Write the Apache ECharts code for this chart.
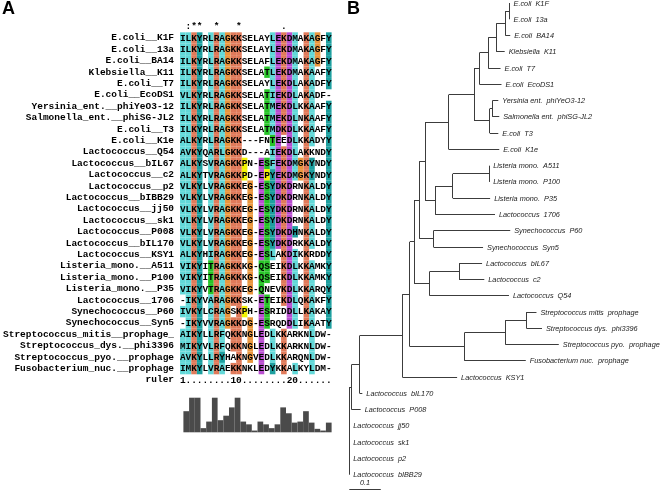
<!DOCTYPE html>
<html><head><meta charset="utf-8">
<script src="https://cdn.jsdelivr.net/npm/echarts@6/dist/echarts.min.js"></script>
<style>html,body{margin:0;padding:0;background:#fff}#c{width:664px;height:491px}</style>
</head><body><div id="c"></div>
<script>
// ---------- Panel A data ----------
const seqNames = [
 'E.coli__K1F','E.coli__13a','E.coli__BA14','Klebsiella__K11','E.coli__T7','E.coli__EcoDS1',
 'Yersinia_ent.__phiYeO3-12','Salmonella_ent.__phiSG-JL2','E.coli__T3','E.coli__K1e',
 'Lactococcus__Q54','Lactococcus__bIL67','Lactococcus__c2','Lactococcus__p2','Lactococcus__bIBB29',
 'Lactococcus__jj50','Lactococcus__sk1','Lactococcus__P008','Lactococcus__bIL170','Lactococcus__KSY1',
 'Listeria_mono.__A511','Listeria_mono.__P100','Listeria_mono.__P35','Lactococcus__1706',
 'Synechococcus__P60','Synechococcus__Syn5','Streptococcus_mitis__prophage_','Streptococcus_dys.__phi3396',
 'Streptococcus_pyo.__prophage','Fusobacterium_nuc.__prophage'
];
const sequences = [
 'ILKYRLRAGKKSELAYLEKDMAKAGFY','ILKYRLRAGKKSELAYLEKDMAKAGFY','ILKYRLRAGKKSELAFLEKDMAKAGFY',
 'ILKYRLRAGKKSELATLEKDMAKAAFY','ILKYRLRAGKKSELAYLEKDLAKADFY','VLKYRLRAGKKSELATIEKDLAKADF-',
 'ILKYRLRAGKKSELATMEKDLKKAAFY','ILKYRLRAGKKSELATMEKDLNKAAFY','ILKYRLRAGKKSELATMDKDLKKAAFY',
 'ALKYRLRAGKK---FNTEEDLKKADYY','AVKYQARLGKKD---AIEKDLAKKNDY','ALKYSVRAGKKPN-ESFEKDMGKYNDY',
 'ALKYTVRAGKKPD-EPYEKDMGKYNDY','VLKYLVRAGKKEG-ESYDKDRNKALDY','VLKYLVRAGKKEG-ESYDKDRNKALDY',
 'VLKYLVRAGKKEG-ESYDKDRNKALDY','VLKYLVRAGKKEG-ESYDKDRNKALDY','VLKYLVRAGKKEG-ESYDKDHNKALDY',
 'VLKYLVRAGKKEG-ESYDKDRKKALDY','ALKYHIRAGKKEG-ESLAKDIKKRDDY','VIKYITRAGKKKG-QSEIKDLKKAMKY',
 'VIKYITRAGKKKG-QSEIKDLKKAMKY','VIKYVTRAGKKEG-QNEVKDLKKARQY','-IKYVARAGKKSK-ETEIKDLQKAKFY',
 'IVKYLCRAGSKPH-ESRIDDLLKAKAY','-IKYVVRAGKKDG-ESRQDDLIKAATY','AIKYLLRFQKKNGLEDLKKARKNLDW-',
 'MIKYVLRFQKKNGLEDLKKARKNLDW-','AVKYLLRYHAKNGVEDLKKARQNLDW-','IMKYLVRAEKKNKLEDYKKALKYLDM-'
];
const consMarks = ' :**  *   *       .        ';
const rulerText = '1........10........20......';
const conservationScore = [0,61,100,100,12,31,100,35,48,72,100,31,23,5,31,23,12,23,72,55,28,31,61,28,10,5,28];

// ---------- Panel B data ----------
const treeLeaves = [
 'E.coli  K1F','E.coli  13a','E.coli  BA14','Klebsiella  K11','E.coli  T7','E.coli  EcoDS1',
 'Yersinia ent.  phiYeO3-12','Salmonella ent.  phiSG-JL2','E.coli  T3','E.coli  K1e',
 'Listeria mono.  A511','Listeria mono.  P100','Listeria mono.  P35','Lactococcus  1706',
 'Synechococcus  P60','Synechococcus  Syn5','Lactococcus  bIL67','Lactococcus  c2','Lactococcus  Q54',
 'Streptococcus mitis  prophage','Streptococcus dys.  phi3396','Streptococcus pyo.  prophage',
 'Fusobacterium nuc.  prophage','Lactococcus  KSY1','Lactococcus  bIL170','Lactococcus  P008',
 'Lactococcus  jj50','Lactococcus  sk1','Lactococcus  p2','Lactococcus  bIBB29'
];
const leafDepth = [0.5093,0.5093,0.5114,0.4938,0.4806,0.4836,0.4735,0.4765,0.4735,0.4765,
 0.4444,0.4444,0.4475,0.4630,0.5114,0.4250,0.4219,0.4290,0.5074,0.5948,0.6123,0.6657,0.5608,
 0.3426,0.0414,0.0361,0,0,0,0];
const nodeNames = ['n1','n2','n3','n4','n5','n6','n7','n8','n9','n10','n11','n12','n13','n14','n15',
 'n16','n17','n18','n19','n20','n21','n22','n23','n24','n25','root'];
const nodeDepth = [0.5093,0.4960,0.4673,0.4414,0.4136,0.4549,0.4466,0.3963,0.3160,0.4444,0.3293,0.2728,
 0.2407,0.2676,0.2235,0.3488,0.2562,0.2059,0.5630,0.4960,0.3673,0.1926,0.1688,0.0330,0.0074,0];
const nodeChildren = [
 ['L0','L1'],['n1','L2'],['n2','L3'],['n3','L4'],['n4','L5'],['L6','L7'],['n6','L8'],['n5','n7'],
 ['n8','L9'],['L10','L11'],['n10','L12'],['n11','L13'],['n9','n12'],['L14','L15'],['n13','n14'],
 ['L16','L17'],['n16','L18'],['n15','n17'],['L19','L20'],['n19','L21'],['n20','L22'],['n18','n21'],
 ['n22','L23'],['n23','L24'],['n24','L25'],['n25','L26','L27','L28','L29']
];
const scaleBar = 0.1;

// ---------- ClustalX colouring ----------
const PAL = {BLUE:'#62d8d8', CYAN:'#1d9f9f', RED:'#e07a5a', ORANGE:'#ea963e', MAGENTA:'#b94fd0',
             GREEN:'#27c427', YELLOW:'#f2f200', PINK:'#f09090'};
function clustalColor(col) {
  const n = sequences.length;
  const cnt = {};
  sequences.forEach(s => { const c = s[col]; cnt[c] = (cnt[c] || 0) + 1; });
  const pct = set => set.split('').reduce((a, c) => a + (cnt[c] || 0), 0) * 100 / n;
  const cons = new Set();
  if (pct('WLVIMAFCYHP') > 60) cons.add('%');
  if (pct('WLVIMAFCYHP') > 80) cons.add('#');
  if (pct('ED') > 50) cons.add('-');
  if (pct('KR') > 60) cons.add('+');
  if (pct('G') > 50) cons.add('g');
  if (pct('N') > 50) cons.add('n');
  if (pct('QE') > 50) cons.add('q');
  if (pct('P') > 50) cons.add('p');
  if (pct('TS') > 50) cons.add('t');
  'ACDEFGHIKLMNPQRSTVWY'.split('').forEach(a => { if (pct(a) > 85) cons.add(a); });
  const any = list => list.split(':').some(x => cons.has(x));
  const hyd = '%:#:A:C:F:H:I:L:M:V:W:Y:P:p';
  return function (res) {
    switch (res) {
      case 'G': return PAL.ORANGE;
      case 'P': return PAL.YELLOW;
      case 'T': return any('t:S:T:%:#') ? PAL.GREEN : null;
      case 'S': return any('t:S:T:#') ? PAL.GREEN : null;
      case 'N': return any('n:N:D') ? PAL.GREEN : null;
      case 'Q': return any('q:Q:E:+:K:R') ? PAL.GREEN : null;
      case 'C': if (cons.has('C')) return PAL.PINK; return any(hyd) ? PAL.BLUE : null;
      case 'W': case 'L': case 'V': case 'I': case 'M': case 'A': case 'F':
        return any(hyd) ? PAL.BLUE : null;
      case 'H': case 'Y': return any(hyd) ? PAL.CYAN : null;
      case 'E': return any('-:D:E:q:Q') ? PAL.MAGENTA : null;
      case 'D': return any('-:D:E:n:N') ? PAL.MAGENTA : null;
      case 'K': case 'R': return any('+:K:R:Q') ? PAL.RED : null;
      default: return null;
    }
  };
}
const nCols = sequences[0].length;
const colFns = [];
for (let c = 0; c < nCols; c++) colFns.push(clustalColor(c));

const rowLabels = [''].concat(seqNames, ['ruler']);
const cellData = [];
for (let c = 0; c < nCols; c++) {
  cellData.push({value: [c, 0], ch: consMarks[c], fill: null});
  sequences.forEach((s, r) => cellData.push({value: [c, r + 1], ch: s[c], fill: colFns[c](s[c])}));
  cellData.push({value: [c, rowLabels.length - 1], ch: rulerText[c], fill: null});
}

// ---------- tree layout ----------
const pos = {};
treeLeaves.forEach((l, i) => { pos['L' + i] = {x: leafDepth[i], y: i}; });
nodeNames.forEach((nm, i) => {
  const ch = nodeChildren[i];
  pos[nm] = {x: nodeDepth[i], y: (pos[ch[0]].y + pos[ch[ch.length - 1]].y) / 2};
});
const segs = [];
nodeNames.forEach((nm, i) => {
  const ch = nodeChildren[i], p = pos[nm];
  segs.push([p.x, pos[ch[0]].y, p.x, pos[ch[ch.length - 1]].y]);
  ch.forEach(k => { if (pos[k].x > p.x) segs.push([p.x, pos[k].y, pos[k].x, pos[k].y]); });
});
segs.push([0, 29.88, scaleBar, 29.88]);

const MONO = '"Liberation Mono", "DejaVu Sans Mono", monospace';
const crisp = v => Math.round(v - 0.5) + 0.5;
const chart = echarts.init(document.getElementById('c'), null, {renderer: 'canvas'});
chart.setOption({
  animation: false,
  backgroundColor: '#fff',
  title: [
    {text: 'A', left: 2, top: 0, padding: 0, textStyle: {fontSize: 18, fontWeight: 'bold', fontFamily: 'Liberation Sans', color: '#000'}},
    {text: 'B', left: 347, top: 0, padding: 0, textStyle: {fontSize: 18, fontWeight: 'bold', fontFamily: 'Liberation Sans', color: '#000'}}
  ],
  grid: [
    {left: 177.7, top: 20.9, width: 153.9, height: 364.8},
    {left: 177.7, top: 397.7, width: 153.9, height: 34.6},
    {left: 349.3, top: 3, width: 324, height: 488.7}
  ],
  xAxis: [
    {gridIndex: 0, type: 'category', data: sequences[0].split('').map((_, i) => i + 1), show: false},
    {gridIndex: 1, type: 'category', data: conservationScore.map((_, i) => i + 1), show: false},
    {gridIndex: 2, type: 'value', min: 0, max: 1, show: false}
  ],
  yAxis: [
    {gridIndex: 0, type: 'category', data: rowLabels, inverse: true,
     axisLine: {show: false}, axisTick: {show: false}, splitLine: {show: false},
     axisLabel: {interval: 0, margin: 6, fontFamily: MONO, fontWeight: 'bold', fontSize: 9.5, color: '#000'}},
    {gridIndex: 1, type: 'value', min: 0, max: 100, show: false},
    {gridIndex: 2, type: 'value', min: 0, max: 30, inverse: true, show: false}
  ],
  series: [
    {
      type: 'custom', xAxisIndex: 0, yAxisIndex: 0, data: cellData,
      renderItem: function (params, api) {
        const d = cellData[params.dataIndex];
        const p = api.coord([api.value(0), api.value(1)]);
        const s = api.size([1, 1]);
        const children = [];
        if (d.fill) children.push({type: 'rect', shape: {x: p[0] - s[0] / 2, y: p[1] - s[1] / 2, width: s[0], height: s[1]}, style: {fill: d.fill}});
        if (d.ch && d.ch !== ' ') children.push({type: 'text', style: {text: d.ch, x: p[0], y: p[1] + 0.5, align: 'center', verticalAlign: 'middle', font: 'bold 9.5px ' + MONO, fill: '#000'}});
        return {type: 'group', children: children};
      }
    },
    {
      type: 'bar', xAxisIndex: 1, yAxisIndex: 1, data: conservationScore,
      barCategoryGap: '0%', itemStyle: {color: '#4a4a4a'}
    },
    {
      type: 'custom', xAxisIndex: 2, yAxisIndex: 2, data: segs,
      renderItem: function (params, api) {
        const a = api.coord([api.value(0), api.value(1)]);
        const b = api.coord([api.value(2), api.value(3)]);
        const vertical = Math.abs(a[0] - b[0]) < 0.01;
        const x1 = vertical ? crisp(a[0]) : a[0], x2 = vertical ? crisp(b[0]) : b[0];
        const y1 = vertical ? a[1] : crisp(a[1]), y2 = vertical ? b[1] : crisp(b[1]);
        return {type: 'line', shape: {x1: x1, y1: y1, x2: x2, y2: y2}, style: {stroke: '#3c3c3c', lineWidth: 1}};
      }
    },
    {
      type: 'custom', xAxisIndex: 2, yAxisIndex: 2,
      data: treeLeaves.map((l, i) => [leafDepth[i], i]),
      renderItem: function (params, api) {
        const a = api.coord([api.value(0), api.value(1)]);
        return {type: 'text', style: {text: treeLeaves[params.dataIndex], x: a[0] + 4, y: a[1] + 0.5, align: 'left', verticalAlign: 'middle',
          font: 'italic 7.3px "Liberation Sans", Arial, sans-serif', fill: '#222'}};
      }
    },
    {
      type: 'custom', xAxisIndex: 2, yAxisIndex: 2, data: [[scaleBar / 2, 29.5]],
      renderItem: function (params, api) {
        const a = api.coord([api.value(0), api.value(1)]);
        return {type: 'text', style: {text: String(scaleBar), x: a[0], y: a[1], align: 'center', verticalAlign: 'middle',
          font: 'italic 7.3px "Liberation Sans", Arial, sans-serif', fill: '#222'}};
      }
    }
  ]
});
</script></body></html>
